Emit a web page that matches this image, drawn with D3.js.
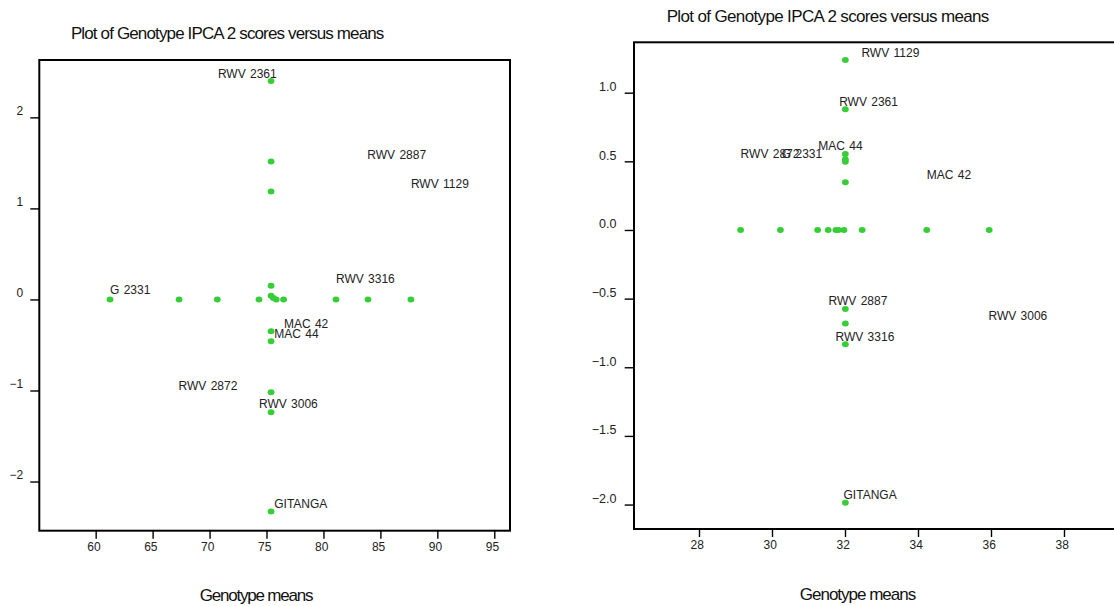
<!DOCTYPE html>
<html><head><meta charset="utf-8">
<script src="https://cdn.jsdelivr.net/npm/d3@7"></script>
<style>
html,body{margin:0;padding:0;background:#fff;}
svg{display:block;font-family:Arial,"Liberation Sans",sans-serif;}
</style></head>
<body>
<svg id="chart" width="1114" height="606"></svg>
<script>
// ---------- Data: left panel ----------
const leftTitle = "Plot of Genotype IPCA 2 scores versus means";
const leftXLabel = "Genotype means";
const leftPointX = [61.26, 67.32, 70.68, 74.34, 75.40, 75.60, 75.85, 76.50, 81.10, 83.91, 87.68,
                    75.40, 75.40, 75.40, 75.40, 75.40, 75.40, 75.40, 75.40, 75.40];
const leftPointY = [0.00, 0.00, 0.00, 0.00, 0.04, 0.015, 0.00, 0.00, 0.00, 0.00, 0.00,
                    2.40, 1.516, 1.186, 0.15, -0.35, -0.46, -1.02, -1.24, -2.33];
const leftLabels = ["RWV 2361", "RWV 2887", "RWV 1129", "G 2331", "RWV 3316", "MAC 42", "MAC 44", "RWV 2872", "RWV 3006", "GITANGA"];
const leftLabelX = [70.73, 83.85, 87.68, 61.26, 81.10, 76.53, 75.68, 67.28, 74.34, 75.68];
const leftLabelY = [2.476, 1.594, 1.275, 0.103, 0.224, -0.262, -0.380, -0.948, -1.149, -2.239];
const leftXTicks = [60, 65, 70, 75, 80, 85, 90, 95];
const leftYTicks = [-2, -1, 0, 1, 2];

// ---------- Data: right panel ----------
const rightTitle = "Plot of Genotype IPCA 2 scores versus means";
const rightXLabel = "Genotype means";
const rightPointX = [29.14, 30.23, 31.25, 31.54, 31.75, 31.82, 31.97, 32.47, 34.24, 35.95,
                     32.01, 32.01, 32.01, 32.01, 32.01, 32.01, 32.01, 32.01, 32.01, 32.01];
const rightPointY = [0, 0, 0, 0, 0, 0, 0, 0, 0, 0,
                     1.238, 0.879, 0.553, 0.515, 0.497, 0.347, -0.575, -0.682, -0.833, -1.986];
const rightLabels = ["RWV 1129", "RWV 2361", "MAC 44", "RWV 2872", "G 2331", "MAC 42", "RWV 2887", "RWV 3006", "RWV 3316", "GITANGA"];
const rightLabelX = [32.45, 31.84, 31.27, 29.14, 30.27, 34.24, 31.55, 35.93, 31.74, 31.96];
const rightLabelY = [1.291, 0.934, 0.612, 0.554, 0.554, 0.406, -0.515, -0.624, -0.777, -1.925];
const rightXTicks = [28, 30, 32, 34, 36, 38];
const rightYTicks = [-2.0, -1.5, -1.0, -0.5, 0.0, 0.5, 1.0];

const svg = d3.select("#chart");
const green = "#36cd36";

function panel(cfg) {
  const x = d3.scaleLinear().domain(cfg.xDomain).range([cfg.left, cfg.right]);
  const y = d3.scaleLinear().domain(cfg.yDomain).range([cfg.bottom, cfg.top]);
  const g = svg.append("g");

  // title
  g.append("text").attr("x", cfg.titleX).attr("y", cfg.titleY)
    .attr("text-anchor", "middle").attr("font-size", 17)
    .attr("letter-spacing", cfg.titleLS).attr("fill", "#111")
    .text(cfg.title);

  // y axis
  const yAxis = d3.axisLeft(y).tickValues(cfg.yTicks).tickFormat(cfg.yFmt)
    .tickSize(cfg.yTickSize).tickPadding(cfg.yPad);
  const ya = g.append("g").attr("transform", `translate(${cfg.left},0)`).call(yAxis);
  ya.select(".domain").remove();
  ya.selectAll(".tick line").attr("stroke", "#000").attr("stroke-width", 1.4);
  ya.selectAll(".tick text").attr("font-size", cfg.yFont).attr("fill", "#222")
    .attr("dy", null).attr("y", cfg.yLabelDy).attr("font-family", "Arial, 'Liberation Sans', sans-serif");

  // x axis
  const xAxis = d3.axisBottom(x).tickValues(cfg.xTicks).tickFormat(d3.format("d"))
    .tickSize(8).tickPadding(6);
  const xa = g.append("g").attr("transform", `translate(0,${cfg.bottom})`).call(xAxis);
  xa.select(".domain").remove();
  xa.selectAll(".tick line").attr("stroke", "#000").attr("stroke-width", 1.4);
  xa.selectAll(".tick text").attr("font-size", 12).attr("fill", "#222")
    .attr("dy", null).attr("y", cfg.xLabelDy).attr("x", -2.3)
    .attr("font-family", "Arial, 'Liberation Sans', sans-serif");

  // frame
  g.append("rect").attr("x", cfg.left).attr("y", cfg.top)
    .attr("width", cfg.right - cfg.left).attr("height", cfg.bottom - cfg.top)
    .attr("fill", "none").attr("stroke", "#000").attr("stroke-width", 2);

  // x axis title
  g.append("text").attr("x", cfg.xlabX).attr("y", cfg.xlabY)
    .attr("text-anchor", "middle").attr("font-size", 17)
    .attr("letter-spacing", cfg.xlabLS).attr("fill", "#111")
    .text(cfg.xLabel);

  // points
  const pts = cfg.px.map((v, i) => ({x: v, y: cfg.py[i]}));
  g.append("g").selectAll("ellipse").data(pts).join("ellipse")
    .attr("cx", d => x(d.x)).attr("cy", d => y(d.y))
    .attr("rx", 3.4).attr("ry", 3.0).attr("fill", green);

  // labels
  const labs = cfg.labels.map((t, i) => ({t, x: cfg.lx[i], y: cfg.ly[i]}));
  g.append("g").selectAll("text").data(labs).join("text")
    .attr("x", d => x(d.x)).attr("y", d => y(d.y) + 4.3)
    .attr("font-size", 12).attr("fill", "#222").attr("word-spacing", 1)
    .text(d => d.t);
}

panel({
  xDomain: [55.05, 96.38], yDomain: [-2.54, 2.63],
  left: 39.3, right: 510, top: 60, bottom: 530.7,
  title: leftTitle, titleX: 227.2, titleY: 39, titleLS: -0.86,
  xLabel: leftXLabel, xlabX: 256, xlabY: 601, xlabLS: -1.2,
  xTicks: leftXTicks, yTicks: leftYTicks, yFmt: d3.format("d"),
  yTickSize: 9, yPad: 7, yFont: 12, yLabelDy: -3.3, xLabelDy: 20.3,
  px: leftPointX, py: leftPointY,
  labels: leftLabels, lx: leftLabelX, ly: leftLabelY
});

panel({
  xDomain: [26.219, 39.425], yDomain: [-2.178, 1.367],
  left: 634, right: 1116, top: 42.3, bottom: 529,
  title: rightTitle, titleX: 827.7, titleY: 21.8, titleLS: -0.64,
  xLabel: rightXLabel, xlabX: 857.5, xlabY: 600, xlabLS: -1,
  xTicks: rightXTicks, yTicks: rightYTicks, yFmt: d3.format(".1f"),
  yTickSize: 9.3, yPad: 8.2, yFont: 12.5, yLabelDy: -2.2, xLabelDy: 20.3,
  px: rightPointX, py: rightPointY,
  labels: rightLabels, lx: rightLabelX, ly: rightLabelY
});
</script>
</body></html>
